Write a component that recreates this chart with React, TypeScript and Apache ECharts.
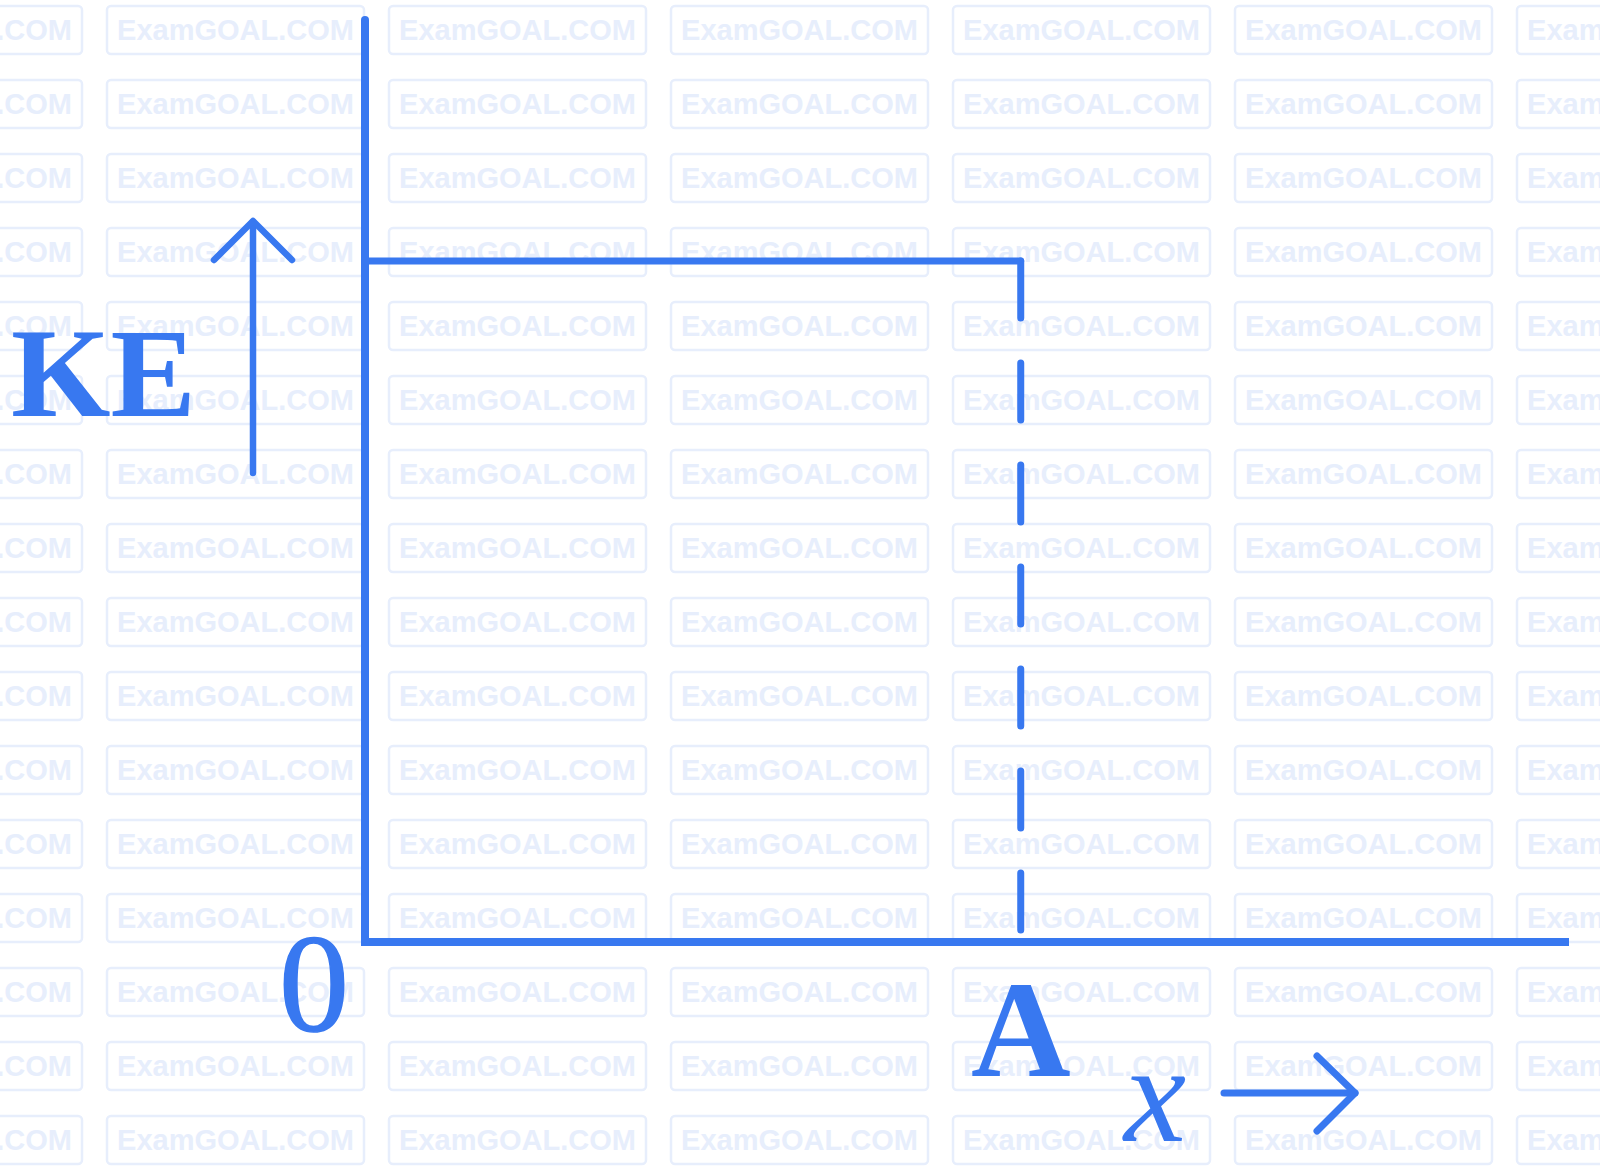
import React, { useEffect, useRef } from "react";
import * as echarts from "echarts";

// ---- data ----
const A_POS = 1; // position A on the x axis
const KE_LEVEL = 1; // constant kinetic energy level
const X_MAX = 1.83;
const Y_MAX = 1.354;
const plateauX = [0, A_POS];
const plateauY = [KE_LEVEL, KE_LEVEL];
const dropX = [A_POS, A_POS];
const dropY = [KE_LEVEL, 0];
const xLabelValues = [A_POS];
const xLabelTexts = ["A"];

const BLUE = "#3878F0";
const WM = "#E7EEFC";

const WM_COLS = [-175, 107, 389, 671, 953, 1235, 1517];
const WM_ROWS = Array.from({ length: 16 }, (_, i) => 6 + i * 74);

export default function App() {
  const ref = useRef<HTMLDivElement>(null);
  useEffect(() => {
    if (!ref.current) return;
    const chart = echarts.init(ref.current, null, { renderer: "svg" });

    const watermark: any[] = [];
    WM_ROWS.forEach((y) => {
      WM_COLS.forEach((x) => {
        watermark.push({
          type: "rect",
          z: -1,
          shape: { x, y, width: 257, height: 48, r: 4 },
          style: { fill: "none", stroke: WM, lineWidth: 2.5 },
          silent: true,
        });
        watermark.push({
          type: "text",
          z: -1,
          x: x + 128.5,
          y: y + 24,
          style: {
            text: "ExamGOAL.COM",
            fill: WM,
            font: "bold 29px 'Liberation Sans', Arial, sans-serif",
            textAlign: "center",
            verticalAlign: "middle",
          },
          silent: true,
        });
      });
    });

    const serif = "'Liberation Serif', 'Times New Roman', serif";

    chart.setOption({
      animation: false,
      backgroundColor: "#ffffff",
      grid: { left: 365, right: 35, top: 20, bottom: 227, containLabel: false },
      xAxis: {
        type: "value",
        min: 0,
        max: X_MAX,
        z: 5,
        axisLine: { show: true, onZero: false, lineStyle: { color: BLUE, width: 8, cap: "square" } },
        axisTick: { show: false },
        splitLine: { show: false },
        axisLabel: {
          show: true,
          customValues: xLabelValues,
          formatter: (v: number) => {
            const i = xLabelValues.indexOf(v);
            return i >= 0 ? xLabelTexts[i] : "";
          },
          color: BLUE,
          fontFamily: serif,
          fontWeight: "bold",
          fontSize: 138,
          lineHeight: 138,
          margin: 18,
        },
      },
      yAxis: {
        type: "value",
        min: 0,
        max: Y_MAX,
        z: 5,
        axisLine: { show: true, onZero: false, lineStyle: { color: BLUE, width: 8, cap: "round" } },
        axisTick: { show: false },
        splitLine: { show: false },
        axisLabel: { show: false },
      },
      series: [
        {
          type: "line",
          z: 6,
          symbol: "none",
          data: plateauX.map((x, i) => [x, plateauY[i]]),
          lineStyle: { color: BLUE, width: 7, cap: "round", join: "round" },
        },
        {
          type: "line",
          z: 6,
          symbol: "none",
          data: dropX.map((x, i) => [x, dropY[i]]),
          lineStyle: { color: BLUE, width: 7, cap: "round", type: [57, 45] },
        },
      ],
      graphic: [
        ...watermark,
        {
          type: "text",
          z: 10,
          x: 11,
          y: 373,
          style: {
            text: "KE",
            fill: BLUE,
            font: `bold 128px ${serif}`,
            textAlign: "left",
            verticalAlign: "middle",
          },
        },
        {
          type: "text",
          z: 10,
          x: 314,
          y: 983,
          style: {
            text: "0",
            fill: BLUE,
            font: `140px ${serif}`,
            textAlign: "center",
            verticalAlign: "middle",
            stroke: BLUE,
            lineWidth: 1.5,
          },
        },
        {
          type: "text",
          z: 10,
          x: 1155,
          y: 1093,
          style: {
            text: "x",
            fill: BLUE,
            font: `italic 140px ${serif}`,
            textAlign: "center",
            verticalAlign: "middle",
          },
        },
        {
          type: "polyline",
          z: 10,
          shape: { points: [[253, 473], [253, 222]] },
          style: { stroke: BLUE, lineWidth: 6.5, lineCap: "round", fill: "none" },
        },
        {
          type: "polyline",
          z: 10,
          shape: { points: [[214, 260], [253, 221], [292, 260]] },
          style: { stroke: BLUE, lineWidth: 6.5, lineCap: "round", lineJoin: "round", fill: "none" },
        },
        {
          type: "polyline",
          z: 10,
          shape: { points: [[1224, 1093], [1355, 1093]] },
          style: { stroke: BLUE, lineWidth: 7, lineCap: "round", fill: "none" },
        },
        {
          type: "polyline",
          z: 10,
          shape: { points: [[1317, 1056], [1355, 1093], [1317, 1131]] },
          style: { stroke: BLUE, lineWidth: 7, lineCap: "round", lineJoin: "round", fill: "none" },
        },
      ],
    });
    return () => chart.dispose();
  }, []);

  return (
    <div
      ref={ref}
      style={{ position: "absolute", left: 0, top: 0, width: 1600, height: 1169 }}
    />
  );
}
